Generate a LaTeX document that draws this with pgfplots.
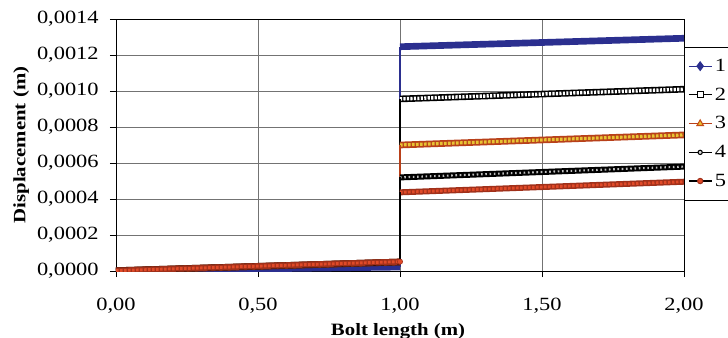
\documentclass[border=0pt]{standalone}
\usepackage{fontspec}
\setmainfont[FakeStretch=1.2]{Liberation Serif}
\usepackage{pgfplots}
\pgfplotsset{compat=1.18}
\definecolor{sone}{HTML}{2B2F8F}
\definecolor{sthreeline}{HTML}{B8401A}
\definecolor{sthreefill}{HTML}{E8C434}
\definecolor{sfiveline}{HTML}{A0301A}
\definecolor{sfivefill}{HTML}{E04A28}
\begin{document}
\begin{tikzpicture}
\begin{axis}[
  scale only axis, width=426pt, height=189pt,
  xmin=0, xmax=2, ymin=0, ymax=0.0014,
  xtick={0,0.5,1,1.5,2},
  ytick={0,0.0002,0.0004,0.0006,0.0008,0.0010,0.0012,0.0014},
  grid=major, major grid style={black!55, line width=0.5pt},
  axis line style={black, line width=0.6pt},
  tick align=outside, major tick length=4.5pt, tick style={black, line width=0.6pt},
  xtick pos=bottom, ytick pos=left,
  scaled y ticks=false, scaled x ticks=false,
  unbounded coords=jump,
  /pgf/number format/use comma,
  /pgf/number format/fixed,
  /pgf/number format/fixed zerofill,
  /pgf/number format/precision=4,
  /pgf/number format/assume math mode=true,
  xticklabel style={/pgf/number format/precision=2, font=\fontsize{14}{16}\selectfont, yshift=-12pt},
  yticklabel style={font=\fontsize{14}{16}\selectfont, xshift=-5pt},
  xlabel={\textbf{Bolt length (m)}},
  ylabel={\textbf{Displacement (m)}},
  xlabel style={font=\fontsize{13}{15}\selectfont, at={(axis description cs:0.4965,-0.238)}, anchor=center},
  ylabel style={font=\fontsize{13}{15}\selectfont, at={(axis description cs:-0.167,0.5)}, anchor=center},
  legend style={at={(rel axis cs:1.0,0.89)}, anchor=north west, draw=black, fill=white,
    font=\fontsize{14}{16}\selectfont, row sep=6.8pt, inner ysep=7pt, inner xsep=3pt},
  legend cell align=left,
]
% series 1
\addplot[forget plot, draw=sone, line width=5pt] coordinates {(0,0.000002) (1,0.000022) (nan,nan) (1,0.001246) (2,0.001293)};
\addplot[forget plot, draw=sone, line width=1.2pt] coordinates {(1,0.000022) (1,0.001246)};
% series 2
\addplot[forget plot, draw=black, line width=5pt, postaction={draw=white, line width=2.6pt, dash pattern=on 1.6pt off 1pt}] coordinates {(0,0.000002) (1,0.000050) (nan,nan) (1,0.000956) (2,0.001010)};
\addplot[forget plot, draw=black, line width=1.2pt] coordinates {(1,0.000050) (1,0.000956)};
% series 3
\addplot[forget plot, draw=sthreeline, line width=5pt, postaction={draw=sthreefill, line width=2.4pt, dash pattern=on 2pt off 1pt}] coordinates {(0,0.000002) (1,0.000050) (nan,nan) (1,0.000700) (2,0.000756)};
\addplot[forget plot, draw=sthreeline, line width=1.2pt] coordinates {(1,0.000050) (1,0.000700)};
% series 4
\addplot[forget plot, draw=black, line width=4.5pt, postaction={draw=black!25, line width=1.6pt, dash pattern=on 1.2pt off 2pt}] coordinates {(0,0.000002) (1,0.000050) (nan,nan) (1,0.000520) (2,0.000580)};
\addplot[forget plot, draw=black, line width=1.2pt] coordinates {(1,0.000050) (1,0.000520)};
% series 5
\addplot[forget plot, draw=sfiveline, line width=4.5pt, postaction={draw=sfivefill, line width=2.2pt, dash pattern=on 2pt off 1pt}] coordinates {(0,0.000002) (1,0.000052) (nan,nan) (1,0.000437) (2,0.000496)};
\addplot[forget plot, draw=black, line width=1.2pt] coordinates {(1,0.000052) (1,0.000437)};
\addplot[forget plot, only marks, mark=*, mark size=2pt, mark options={fill=sfivefill, draw=sfiveline}] coordinates {(1,0.000052)};
% legend
\addlegendimage{draw=sone, line width=0.8pt, mark=diamond*, mark size=3.2pt, mark options={fill=sone, draw=sone}}
\addlegendentry{1}
\addlegendimage{draw=black, line width=0.8pt, mark=square*, mark size=2.2pt, mark options={fill=white, draw=black}}
\addlegendentry{2}
\addlegendimage{draw=sthreeline, line width=0.8pt, mark=triangle*, mark size=2.8pt, mark options={fill=sthreefill, draw=sthreeline!80!orange}}
\addlegendentry{3}
\addlegendimage{draw=black, line width=0.8pt, mark=*, mark size=1.6pt, mark options={fill=black!15, draw=black}}
\addlegendentry{4}
\addlegendimage{draw=black, line width=0.8pt, mark=*, mark size=2pt, mark options={fill=sfivefill, draw=sfiveline}}
\addlegendentry{5}
\end{axis}
\pgfresetboundingbox
\path[use as bounding box] (-87pt,-49.5pt) rectangle (459pt,203.25pt);
\end{tikzpicture}
\end{document}
